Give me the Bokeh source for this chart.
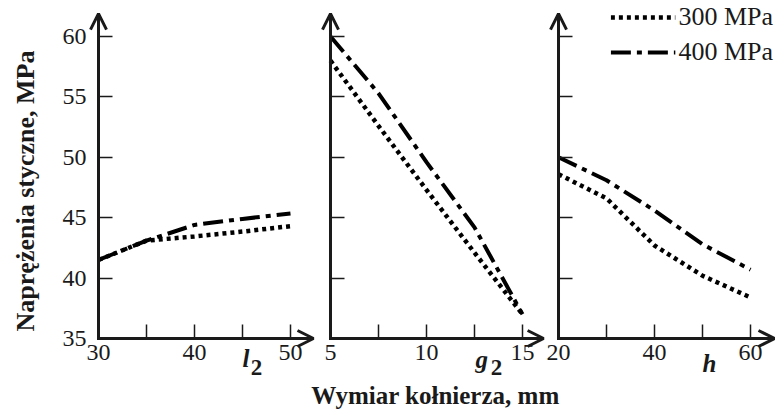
from bokeh.plotting import figure
from bokeh.models import Range1d, FixedTicker, Arrow, OpenHead, Label, Legend, LegendItem
from bokeh.layouts import row, column
from bokeh.embed import file_html
from bokeh.resources import INLINE
from bokeh.core.properties import value

# ---- data ----
l2_vals = [30, 35, 40, 45, 50]
l2_300 = [41.5, 43.1, 43.45, 43.85, 44.3]
l2_400 = [41.5, 43.1, 44.4, 44.9, 45.35]

g2_vals = [5, 7.5, 10, 12.5, 15]
g2_300 = [58.0, 52.6, 47.3, 42.1, 37.0]
g2_400 = [60.0, 55.3, 49.6, 44.2, 37.0]

h_vals = [20, 30, 40, 50, 60]
h_300 = [48.6, 46.6, 42.7, 40.2, 38.4]
h_400 = [50.0, 48.1, 45.6, 42.8, 40.7]

y_ticks = [35, 40, 45, 50, 55, 60]
series_names = ["300 MPa", "400 MPa"]
y_title = "Naprężenia styczne, MPa"
x_title = "Wymiar kołnierza, mm"

FONT = "Liberation Serif"
DOT = "4 4"
DASHDOT = "20 6 5 6"
INK = "#1a1a1a"

ROW_H = 381
Y0, Y_TIP = 35, 61.9
Y_RANGE = (35 - (ROW_H - 338) / 12.08, 35 + 338 / 12.08)


def make_panel(xs, y300, y400, xr, x0, tip, majors, minors, width,
               name, name_x, name_off, sub_x, show_y):
    p = figure(width=width, height=ROW_H, x_range=Range1d(*xr), y_range=Range1d(*Y_RANGE),
               output_backend="svg", toolbar_location=None, title=None, min_border=0)
    p.outline_line_color = None
    p.grid.visible = False
    xa = p.xaxis[0]
    ya = p.yaxis[0]
    xa.fixed_location = Y0
    ya.fixed_location = x0
    xa.ticker = FixedTicker(ticks=majors, minor_ticks=minors)
    if show_y:
        ya.ticker = FixedTicker(ticks=y_ticks, minor_ticks=[])
    else:
        ya.ticker = FixedTicker(ticks=[], minor_ticks=y_ticks)
    for ax in (xa, ya):
        ax.axis_line_color = None
        ax.major_tick_in = 14
        ax.major_tick_out = 0
        ax.minor_tick_in = 14
        ax.minor_tick_out = 0
        ax.major_tick_line_width = 1.5
        ax.minor_tick_line_width = 1.5
        ax.major_tick_line_color = INK
        ax.minor_tick_line_color = INK
        ax.major_label_text_font = FONT
        ax.major_label_text_font_size = "24px"
        ax.major_label_text_color = INK
    xa.major_label_standoff = 6
    if show_y:
        ya.major_label_standoff = 12
        ya.axis_label = y_title
        ya.axis_label_text_font = FONT
        ya.axis_label_text_font_style = "bold"
        ya.axis_label_text_font_size = "26px"
        ya.axis_label_text_color = INK
        ya.axis_label_standoff = 20

    r300 = p.line(xs, y300, line_color="black", line_width=4.5, line_dash=DOT)
    r400 = p.line(xs, y400, line_color="black", line_width=4, line_dash=DASHDOT)

    # axes drawn as arrows
    p.add_layout(Arrow(end=OpenHead(size=16, line_width=3, line_color=INK),
                       x_start=x0, y_start=Y0, x_end=tip, y_end=Y0,
                       line_width=3, line_color=INK, line_cap="square"))
    p.add_layout(Arrow(end=OpenHead(size=16, line_width=3, line_color=INK),
                       x_start=x0, y_start=Y0, x_end=x0, y_end=Y_TIP,
                       line_width=3, line_color=INK, line_cap="square"))

    p.add_layout(Label(x=name_x, y=Y0, y_offset=name_off, text=name,
                       text_font=FONT, text_font_style="bold italic", text_font_size="25px",
                       text_color=INK, text_baseline="middle"))
    if sub_x is not None:
        p.add_layout(Label(x=sub_x, y=Y0, y_offset=-29, text="2",
                           text_font=FONT, text_font_style="bold", text_font_size="23px",
                           text_color=INK, text_baseline="middle"))
    return p, r300, r400


p1, _, _ = make_panel(l2_vals, l2_300, l2_400, (19.79, 52.92), 30, 52.4, [30, 40, 50], [35, 45],
                      318, "l", 45.0, -20, 45.85, True)
p2, _, _ = make_panel(g2_vals, g2_300, g2_400, (4.375, 16.198), 5, 16.1, [5, 10, 15], [7.5, 12.5],
                      227, "g", 12.55, -21, 13.35, False)
p3, a300, a400 = make_panel(h_vals, h_300, h_400, (17.29, 65.21), 20, 65.0, [20, 40, 60], [30, 50],
                            230, "h", 50.0, -25, None, False)

legend = Legend(items=[LegendItem(label=series_names[0], renderers=[a300]),
                       LegendItem(label=series_names[1], renderers=[a400])],
                location="top_right")
legend.label_text_font = FONT
legend.label_text_font_size = "26px"
legend.label_text_color = INK
legend.glyph_width = 65
legend.glyph_height = 26
legend.label_height = 26
legend.label_standoff = 3
legend.spacing = 5
legend.padding = 0
legend.margin = 2
legend.border_line_color = None
legend.background_fill_alpha = 0
p3.add_layout(legend)

STRIP_H = 411 - ROW_H
strip = figure(width=775, height=STRIP_H, x_range=Range1d(0, 775), y_range=Range1d(0, STRIP_H),
               output_backend="svg", toolbar_location=None, title=None, min_border=0)
strip.axis.visible = False
strip.grid.visible = False
strip.outline_line_color = None
strip.text(x=[435], y=[16], text=[x_title], text_font=value(FONT), text_font_style="bold",
           text_font_size="25px", text_color=INK, text_align="center",
           text_baseline="middle")

layout = column(row(p1, p2, p3), strip)
open("out.html", "w").write(file_html(layout, INLINE))
